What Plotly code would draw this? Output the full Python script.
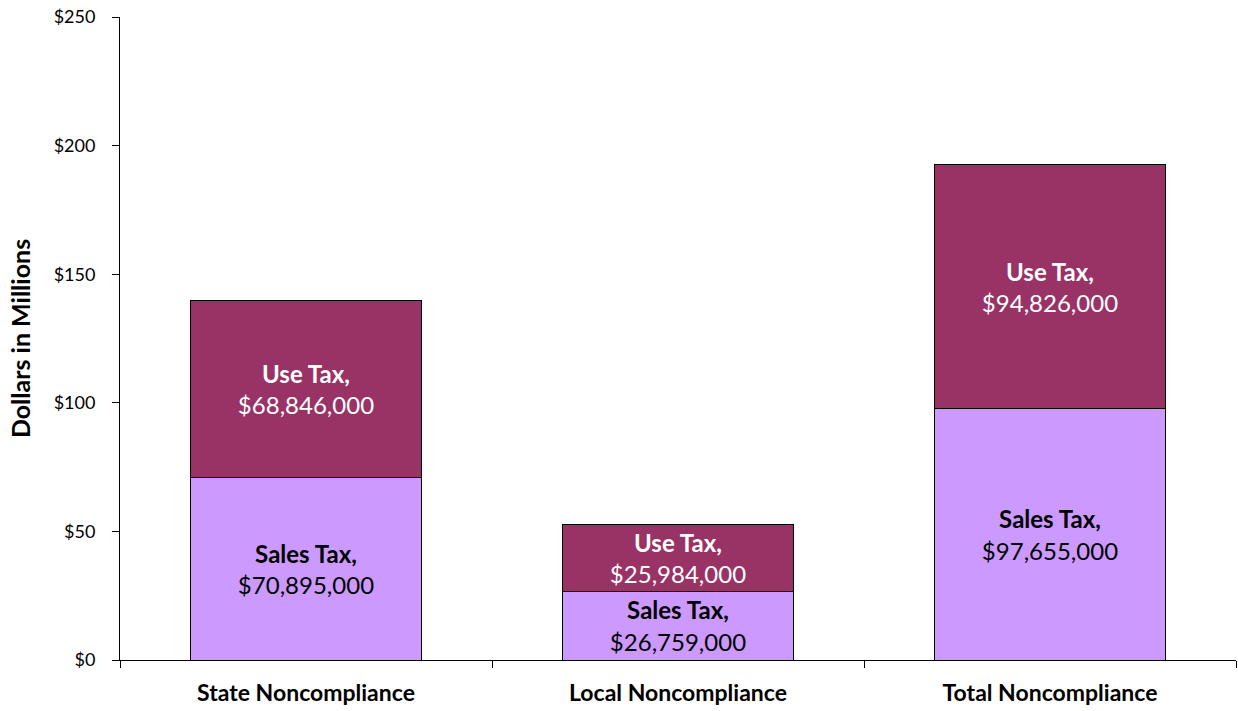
import plotly.graph_objects as go

categories = ["State Noncompliance", "Local Noncompliance", "Total Noncompliance"]
sales_tax = [70.895, 26.759, 97.655]
use_tax = [68.846, 25.984, 94.826]
sales_labels = ["$70,895,000", "$26,759,000", "$97,655,000"]
use_labels = ["$68,846,000", "$25,984,000", "$94,826,000"]
y_ticks = [0, 50, 100, 150, 200, 250]

FONT = "Lato, 'Open Sans', sans-serif"

fig = go.Figure()
fig.add_trace(go.Bar(
    x=categories, y=sales_tax, name="Sales Tax",
    marker=dict(color="#CC99FF", line=dict(color="black", width=1)),
    text=[f"<b>Sales Tax,</b><br>{t}" for t in sales_labels],
    textposition="inside", insidetextanchor="middle",
    textfont=dict(color="black", size=24, family=FONT),
    constraintext="none",
))
fig.add_trace(go.Bar(
    x=categories, y=use_tax, name="Use Tax",
    marker=dict(color="#993366", line=dict(color="black", width=1)),
    text=[f"<b>Use Tax,</b><br>{t}" for t in use_labels],
    textposition="inside", insidetextanchor="middle",
    textfont=dict(color="white", size=24, family=FONT),
    constraintext="none",
))

fig.update_layout(
    barmode="stack", bargap=0.38,
    showlegend=False,
    width=1238, height=711,
    margin=dict(l=120, r=2, t=17, b=51),
    plot_bgcolor="white", paper_bgcolor="white",
    font=dict(family=FONT, color="black"),
    uniformtext=dict(mode=False),
)
fig.update_yaxes(
    range=[0, 250], tickvals=y_ticks,
    ticktext=[f"${v}" for v in y_ticks],
    showgrid=False, zeroline=False,
    showline=True, linecolor="black", linewidth=1,
    ticks="outside", ticklen=7, tickcolor="black",
    tickfont=dict(size=18), ticklabelstandoff=13,
    title=dict(text="<b>Dollars in Millions</b>", font=dict(size=25), standoff=15),
)
fig.update_xaxes(
    showgrid=False, showline=True, linecolor="black", linewidth=1,
    ticks="outside", tickson="boundaries", ticklen=7, tickcolor="black",
    tickfont=dict(size=23), ticklabelstandoff=12,
    ticktext=[f"<b>{c}</b>" for c in categories], tickvals=categories,
)

fig.write_html(
    "out.html",
    config={"displayModeBar": False},
    post_script="document.body.style.margin='0';",
)
